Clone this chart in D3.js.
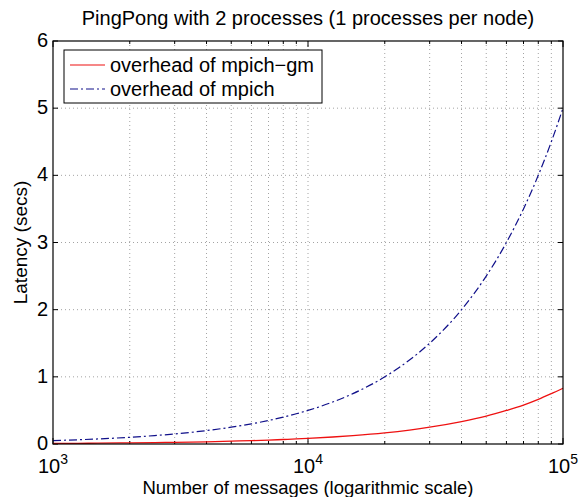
<!DOCTYPE html>
<html>
<head>
<meta charset="utf-8">
<script src="https://cdn.jsdelivr.net/npm/d3@7"></script>
<style>
  body { margin: 0; background: #fff; }
  text { font-family: "Liberation Sans", Arial, Helvetica, sans-serif; fill: #000; }
</style>
</head>
<body>
<div id="chart"></div>
<script>
// message counts (x) and latency values (secs)
const messages = [1000, 1250, 1500, 2000, 2500, 3000, 4000, 5000, 6000, 7000, 8000, 9000,
  10000, 12500, 15000, 20000, 25000, 30000, 40000, 50000, 60000, 70000, 80000, 90000, 100000]
const mpichGm = [0.008, 0.010, 0.012, 0.017, 0.021, 0.025, 0.033, 0.042, 0.050, 0.058, 0.067, 0.075,
  0.083, 0.104, 0.125, 0.166, 0.208, 0.25, 0.333, 0.415, 0.50, 0.58, 0.665, 0.75, 0.83]
const mpich = [0.05, 0.063, 0.075, 0.10, 0.125, 0.15, 0.20, 0.25, 0.30, 0.35, 0.40, 0.45,
  0.50, 0.625, 0.75, 1.0, 1.25, 1.5, 2.0, 2.5, 3.0, 3.5, 4.0, 4.5, 5.0]
const seriesNames = ['overhead of mpich\u2212gm', 'overhead of mpich']
const yTicks = [0, 1, 2, 3, 4, 5, 6]
const xMajor = [1e3, 1e4, 1e5]

const W = 587, H = 497
const margin = {top: 41, right: 24, bottom: 53, left: 53}
const iw = W - margin.left - margin.right
const ih = H - margin.top - margin.bottom

const svg = d3.select('#chart').append('svg')
  .attr('width', W).attr('height', H)

const x = d3.scaleLog().domain([1e3, 1e5]).range([0, iw])
const y = d3.scaleLinear().domain([0, 6]).range([ih, 0])

const g = svg.append('g').attr('transform', `translate(${margin.left},${margin.top})`)

// minor + major x positions
const xAll = []
for (let k = 3; k < 5; k++) {
  for (let m = 1; m < 10; m++) xAll.push(m * Math.pow(10, k))
}
xAll.push(1e5)

// grid
const grid = g.append('g').attr('class', 'grid')
  .attr('stroke', '#8c8c8c').attr('stroke-width', 0.8).attr('stroke-dasharray', '1,3')
grid.selectAll('.gx').data(xAll.filter(v => v > 1e3 && v < 1e5))
  .enter().append('line')
  .attr('x1', d => x(d)).attr('x2', d => x(d))
  .attr('y1', 0).attr('y2', ih)
grid.selectAll('.gy').data(yTicks.filter(v => v > 0 && v < 6))
  .enter().append('line')
  .attr('y1', d => y(d)).attr('y2', d => y(d))
  .attr('x1', 0).attr('x2', iw)

// ticks inside on all sides
const ticks = g.append('g').attr('stroke', '#000').attr('stroke-width', 1)
yTicks.forEach(v => {
  ticks.append('line').attr('x1', 0).attr('x2', 5).attr('y1', y(v)).attr('y2', y(v))
  ticks.append('line').attr('x1', iw).attr('x2', iw - 5).attr('y1', y(v)).attr('y2', y(v))
})
xAll.forEach(v => {
  const len = xMajor.indexOf(v) >= 0 ? 6 : 3
  ticks.append('line').attr('x1', x(v)).attr('x2', x(v)).attr('y1', ih).attr('y2', ih - len)
  ticks.append('line').attr('x1', x(v)).attr('x2', x(v)).attr('y1', 0).attr('y2', len)
})

// lines
const line = vals => d3.line()
  .curve(d3.curveMonotoneX)
  .x((d, i) => x(messages[i]))
  .y(d => y(d))(vals)

g.append('path').attr('d', line(mpich))
  .attr('fill', 'none').attr('stroke', '#10108a').attr('stroke-width', 1.2)
  .attr('stroke-dasharray', '8,3,2,3')
g.append('path').attr('d', line(mpichGm))
  .attr('fill', 'none').attr('stroke', '#ee1111').attr('stroke-width', 1.3)

// box
g.append('rect').attr('x', 0).attr('y', 0).attr('width', iw).attr('height', ih)
  .attr('fill', 'none').attr('stroke', '#000').attr('stroke-width', 1.2)

// y tick labels
g.selectAll('.ylab').data(yTicks).enter().append('text')
  .attr('x', -5).attr('y', d => y(d)).attr('dy', '0.3em')
  .attr('text-anchor', 'end').style('font-size', '20px')
  .text(d => d)

// x tick labels 10^k
const xl = g.selectAll('.xlab').data(xMajor).enter().append('text')
  .attr('x', d => x(d)).attr('y', ih + 29)
  .attr('text-anchor', 'middle').style('font-size', '20px')
xl.append('tspan').text('10')
xl.append('tspan').attr('dy', '-9').style('font-size', '14px')
  .text(d => Math.round(Math.log10(d)))

// titles
svg.append('text').attr('x', margin.left + iw / 2).attr('y', 25)
  .attr('text-anchor', 'middle').style('font-size', '20px')
  .text('PingPong with 2 processes (1 processes per node)')
svg.append('text').attr('x', margin.left + iw / 2).attr('y', 494)
  .attr('text-anchor', 'middle').style('font-size', '18.5px')
  .text('Number of messages (logarithmic scale)')
svg.append('text')
  .attr('transform', `translate(27,${margin.top + ih / 2}) rotate(-90)`)
  .attr('text-anchor', 'middle').style('font-size', '19px')
  .text('Latency (secs)')

// legend
const lg = g.append('g').attr('transform', 'translate(11,9)')
lg.append('rect').attr('width', 258).attr('height', 53)
  .attr('fill', '#fff').attr('stroke', '#000').attr('stroke-width', 1)
const styles = [
  {stroke: '#ee1111', dash: null},
  {stroke: '#10108a', dash: '8,3,2,3'}
]
seriesNames.forEach((name, i) => {
  const yy = 15 + i * 24
  lg.append('line').attr('x1', 6).attr('x2', 41).attr('y1', yy).attr('y2', yy)
    .attr('stroke', styles[i].stroke).attr('stroke-width', 1.2)
    .attr('stroke-dasharray', styles[i].dash)
  lg.append('text').attr('x', 46).attr('y', yy).attr('dy', '0.36em')
    .style('font-size', '20px').text(name)
})
</script>
</body>
</html>
